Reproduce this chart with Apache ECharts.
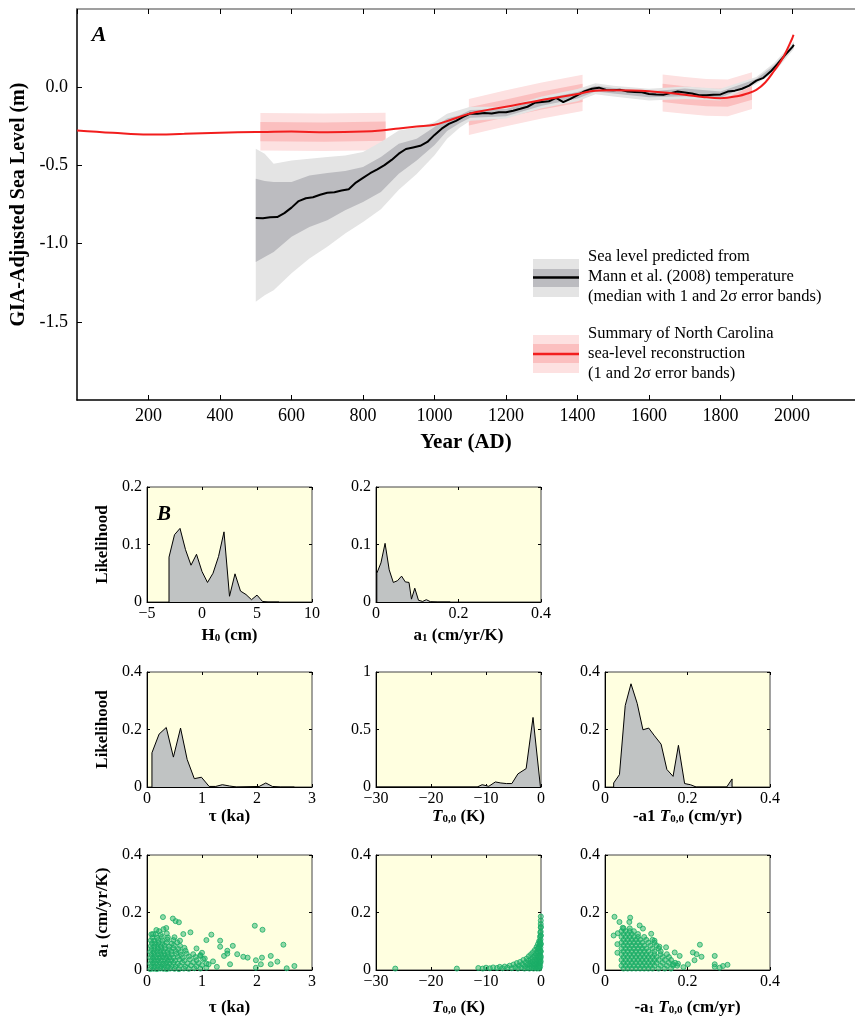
<!DOCTYPE html>
<html>
<head>
<meta charset="utf-8">
<script src="https://cdn.jsdelivr.net/npm/echarts@6/dist/echarts.min.js"></script>
<style>
  html, body { margin: 0; padding: 0; background: #fff; }
  #chart { width: 855px; height: 1020px; }
</style>
</head>
<body>
<div id="chart"></div>
<script>
const SERIF = '"Liberation Serif", "Times New Roman", serif';

// ---- Panel A: North Carolina reconstruction (red) ----
const ncYears = [0, 100, 200, 300, 400, 500, 600, 700, 800, 850, 900, 950, 1000, 1050, 1100, 1200, 1300, 1400, 1450, 1500,
  1600, 1700, 1750, 1800, 1850, 1875, 1900, 1925, 1950, 1975, 2000, 2004];
const ncLevel = [-0.277, -0.292, -0.303, -0.298, -0.291, -0.287, -0.284, -0.288, -0.284, -0.277, -0.264, -0.252, -0.24, -0.205, -0.168, -0.125, -0.082, -0.043, -0.022, -0.02,
  -0.026, -0.048, -0.062, -0.07, -0.056, -0.04, -0.017, 0.03, 0.105, 0.19, 0.31, 0.335];

// error boxes of the reconstruction (three segments)
const ncSeg1Years = [513, 690, 863];
const ncSeg1Lo2 = [-0.405, -0.408, -0.403];
const ncSeg1Lo1 = [-0.345, -0.348, -0.343];
const ncSeg1Hi1 = [-0.222, -0.225, -0.22];
const ncSeg1Hi2 = [-0.165, -0.168, -0.163];
const ncSeg2Years = [1096, 1200, 1300, 1414];
const ncSeg2Lo2 = [-0.305, -0.25, -0.2, -0.152];
const ncSeg2Lo1 = [-0.245, -0.192, -0.142, -0.095];
const ncSeg2Hi1 = [-0.128, -0.078, -0.028, 0.022];
const ncSeg2Hi2 = [-0.075, -0.02, 0.03, 0.08];
const ncSeg3Years = [1638, 1700, 1760, 1820, 1888];
const ncSeg3Lo2 = [-0.155, -0.17, -0.182, -0.185, -0.14];
const ncSeg3Lo1 = [-0.095, -0.11, -0.122, -0.125, -0.08];
const ncSeg3Hi1 = [0.022, 0.006, -0.008, -0.01, 0.035];
const ncSeg3Hi2 = [0.081, 0.065, 0.052, 0.05, 0.095];

// ---- Panel A: prediction from Mann et al. (2008) (black + grey) ----
const mannYears = [500, 520, 540, 560, 580, 600, 620, 640, 660, 680, 700, 720, 740, 760, 780, 800, 820, 840, 860, 880,
  900, 920, 940, 960, 980, 1000, 1020, 1040, 1060, 1080, 1100, 1120, 1140, 1160, 1180, 1200, 1220, 1240, 1260, 1280,
  1300, 1320, 1340, 1360, 1380, 1400, 1420, 1440, 1460, 1480, 1500, 1520, 1540, 1560, 1580, 1600, 1620, 1640, 1660, 1680,
  1700, 1720, 1740, 1760, 1780, 1800, 1820, 1840, 1860, 1880, 1900, 1920, 1940, 1960, 1980, 2000, 2005];
const mannMedian = [-0.836, -0.838, -0.832, -0.83, -0.805, -0.77, -0.728, -0.71, -0.704, -0.688, -0.675, -0.672, -0.66, -0.652, -0.61, -0.58, -0.55, -0.525, -0.498, -0.465,
  -0.425, -0.395, -0.385, -0.375, -0.35, -0.305, -0.265, -0.235, -0.215, -0.19, -0.168, -0.17, -0.165, -0.168, -0.16, -0.16, -0.15, -0.138, -0.125, -0.1,
  -0.095, -0.09, -0.068, -0.095, -0.075, -0.05, -0.025, -0.01, -0.003, -0.018, -0.02, -0.017, -0.028, -0.03, -0.032, -0.043, -0.047, -0.048, -0.038, -0.028,
  -0.034, -0.04, -0.052, -0.052, -0.048, -0.046, -0.028, -0.022, -0.01, 0.01, 0.042, 0.06, 0.1, 0.15, 0.205, 0.255, 0.27];

const bandYears = [500, 525, 550, 600, 650, 700, 750, 800, 850, 900, 950, 1000, 1035, 1070, 1100, 1200, 1300, 1400, 1450, 1500, 1600, 1700, 1800, 1900, 1950, 2005];
const mannLo2 = [-1.372, -1.33, -1.298, -1.19, -1.096, -1.02, -0.936, -0.862, -0.78, -0.655, -0.555, -0.435, -0.33, -0.26, -0.215, -0.2, -0.135, -0.09, -0.045, -0.06, -0.085, -0.075, -0.085, 0.02, 0.095, 0.245];
const mannLo1 = [-1.117, -1.085, -1.053, -0.957, -0.894, -0.851, -0.787, -0.734, -0.67, -0.553, -0.468, -0.37, -0.28, -0.23, -0.195, -0.185, -0.118, -0.072, -0.028, -0.04, -0.065, -0.058, -0.067, 0.03, 0.11, 0.258];
const mannHi1 = [-0.585, -0.6, -0.606, -0.606, -0.564, -0.549, -0.536, -0.511, -0.447, -0.362, -0.33, -0.255, -0.2, -0.18, -0.145, -0.14, -0.075, -0.03, 0.01, -0.005, -0.028, -0.008, -0.027, 0.052, 0.14, 0.28];
const mannHi2 = [-0.394, -0.426, -0.489, -0.468, -0.457, -0.447, -0.436, -0.415, -0.351, -0.277, -0.26, -0.223, -0.17, -0.145, -0.125, -0.125, -0.06, -0.012, 0.025, 0.01, -0.01, 0.005, -0.01, 0.065, 0.155, 0.292];

// ---- Panel B: likelihood curves ----
const h0X = [-3, -3, -2.5, -2, -1.5, -1, -0.5, 0, 0.5, 1, 1.5, 2, 2.5, 3, 3.5, 4, 4.5, 5, 5.5, 6, 7];
const h0Y = [0, 0.078, 0.117, 0.128, 0.091, 0.064, 0.083, 0.053, 0.034, 0.05, 0.079, 0.122, 0.01, 0.049, 0.019, 0.013, 0.004, 0.012, 0.001, 0, 0];
const a1X = [0.002, 0.002, 0.012, 0.022, 0.032, 0.042, 0.052, 0.062, 0.071, 0.08, 0.086, 0.094, 0.103, 0.113, 0.122, 0.132, 0.15, 0.18];
const a1Y = [0, 0.05, 0.068, 0.102, 0.056, 0.034, 0.037, 0.045, 0.035, 0.034, 0.005, 0.024, 0.003, 0.001, 0.004, 0.0005, 0, 0];
const tauX = [0.09, 0.09, 0.22, 0.35, 0.48, 0.61, 0.73, 0.86, 0.99, 1.13, 1.25, 1.37, 1.5, 1.63, 2.04, 2.16, 2.28, 2.43, 2.68];
const tauY = [0, 0.119, 0.184, 0.207, 0.104, 0.205, 0.096, 0.029, 0.034, 0.002, 0.002, 0.008, 0.0035, 0, 0.002, 0.014, 0.002, 0, 0];
const t00X = [-30, -26, -11.6, -10.7, -9.5, -8.3, -7.3, -6.3, -5.3, -4.2, -2.7, -1.45, -0.1];
const t00Y = [0, 0, 0, 0.02, 0.006, 0.044, 0.035, 0.03, 0.03, 0.114, 0.16, 0.605, 0];
const rateX = [0.021, 0.021, 0.035, 0.049, 0.063, 0.078, 0.092, 0.106, 0.12, 0.136, 0.15, 0.165, 0.178, 0.193, 0.207, 0.221, 0.295, 0.308, 0.308];
const rateY = [0, 0.014, 0.043, 0.283, 0.359, 0.291, 0.199, 0.205, 0.178, 0.149, 0.061, 0.037, 0.145, 0.012, 0.008, 0, 0, 0.028, 0];

// ---- Panel B: samples ----
const tauA1 = [
  [0.06,0.003],[0.12,0.004],[0.18,0.003],[0.24,0.005],[0.3,0.004],[0.36,0.003],[0.42,0.005],[0.5,0.004],[0.58,0.003],[0.67,0.005],[0.76,0.004],[0.86,0.006],[0.97,0.005],[1.08,0.008],
  [0.08,0.013],[0.14,0.012],[0.2,0.014],[0.26,0.013],[0.32,0.015],[0.38,0.012],[0.45,0.014],[0.52,0.013],[0.6,0.015],[0.7,0.012],[0.8,0.016],[0.9,0.013],[1.0,0.017],[1.12,0.02],
  [0.06,0.022],[0.11,0.024],[0.17,0.023],[0.23,0.025],[0.29,0.022],[0.35,0.024],[0.41,0.023],[0.48,0.025],[0.56,0.022],[0.64,0.026],[0.74,0.023],[0.84,0.027],[0.94,0.024],
  [0.08,0.033],[0.14,0.032],[0.2,0.034],[0.26,0.033],[0.32,0.035],[0.38,0.032],[0.44,0.034],[0.51,0.033],[0.59,0.036],[0.68,0.033],[0.78,0.037],[0.9,0.034],[1.02,0.038],
  [0.06,0.043],[0.11,0.042],[0.17,0.044],[0.23,0.043],[0.29,0.045],[0.35,0.042],[0.41,0.044],[0.48,0.043],[0.56,0.046],[0.65,0.043],[0.76,0.047],[0.88,0.045],
  [0.08,0.053],[0.14,0.052],[0.2,0.054],[0.26,0.053],[0.32,0.055],[0.38,0.052],[0.45,0.054],[0.53,0.056],[0.62,0.053],[0.72,0.057],[0.84,0.055],[0.97,0.052],
  [0.06,0.063],[0.12,0.062],[0.18,0.064],[0.24,0.063],[0.3,0.065],[0.37,0.062],[0.44,0.064],[0.52,0.066],[0.61,0.063],[0.7,0.067],
  [0.08,0.073],[0.14,0.072],[0.2,0.074],[0.26,0.073],[0.33,0.075],[0.4,0.072],[0.48,0.076],[0.57,0.073],[0.68,0.077],
  [0.07,0.083],[0.13,0.082],[0.19,0.084],[0.25,0.083],[0.32,0.085],[0.4,0.082],[0.49,0.086],[0.6,0.084],
  [0.09,0.093],[0.15,0.092],[0.21,0.094],[0.28,0.093],[0.36,0.095],[0.45,0.092],[0.55,0.096],
  [0.07,0.103],[0.13,0.102],[0.2,0.104],[0.28,0.103],[0.37,0.106],[0.48,0.104],[0.6,0.102],
  [0.1,0.113],[0.18,0.112],[0.27,0.115],[0.38,0.113],[0.5,0.114],
  [0.08,0.124],[0.16,0.125],[0.25,0.123],[0.36,0.127],[0.22,0.135],[0.3,0.142],
  [0.29,0.184],[0.47,0.179],[0.52,0.17],[0.58,0.166],[0.35,0.146],[0.11,0.125],[0.17,0.139],[0.79,0.131],[0.66,0.125],
  [1.08,0.104],[1.17,0.123],[1.33,0.102],[1.33,0.081],[1.56,0.084],[1.46,0.057],[1.64,0.055],[1.75,0.046],[1.83,0.043],
  [1.96,0.154],[2.1,0.14],[1.98,0.034],[2.09,0.043],[1.98,0.008],[2.07,0.02],[2.25,0.049],[2.25,0.02],[2.37,0.029],
  [2.48,0.088],[2.54,0.006],[2.68,0.014],[1.27,0.011],[1.51,0.02],[1.08,0.022],[0.97,0.049],[1.4,0.049],[1.46,0.067],
  [1.2,0.03],[1.0,0.06],[0.9,0.075],[1.05,0.04]
];
const t00A1 = [
  [-26.5,0.005],[-15.3,0.005],[-11.4,0.007],[-10.6,0.005],[-10.0,0.008],[-9.3,0.006],[-8.7,0.009],[-8.0,0.007],[-7.5,0.011],[-7.0,0.006],
  [-6.6,0.012],[-6.1,0.008],[-5.7,0.015],[-5.3,0.006],[-5.0,0.019],[-4.7,0.01],[-4.4,0.024],[-4.2,0.005],[-4.0,0.015],[-3.8,0.028],
  [-3.6,0.008],[-3.4,0.02],[-3.2,0.035],[-3.0,0.005],[-2.9,0.014],[-2.8,0.026],[-2.6,0.04],[-2.5,0.008],[-2.4,0.02],[-2.3,0.032],
  [-2.2,0.048],[-2.1,0.005],[-2.0,0.014],[-1.9,0.025],[-1.85,0.037],[-1.8,0.055],[-1.7,0.008],[-1.6,0.018],[-1.55,0.03],[-1.5,0.044],
  [-1.45,0.062],[-1.35,0.005],[-1.3,0.013],[-1.25,0.023],[-1.2,0.035],[-1.15,0.05],[-1.1,0.07],[-1.0,0.008],[-0.95,0.018],[-0.9,0.03],
  [-0.9,0.043],[-0.85,0.058],[-0.8,0.08],[-0.75,0.005],[-0.7,0.013],[-0.7,0.024],[-0.65,0.036],[-0.6,0.05],[-0.6,0.065],[-0.55,0.09],
  [-0.5,0.009],[-0.45,0.019],[-0.45,0.032],[-0.4,0.046],[-0.4,0.06],[-0.35,0.075],[-0.35,0.1],[-0.3,0.005],[-0.3,0.015],[-0.25,0.027],
  [-0.25,0.04],[-0.22,0.054],[-0.2,0.068],[-0.2,0.085],[-0.18,0.115],[-0.15,0.012],[-0.12,0.024],[-0.12,0.038],[-0.1,0.05],[-0.1,0.064],
  [-0.1,0.078],[-0.08,0.092],[-0.08,0.106],[-0.07,0.12],[-0.06,0.134],[-0.05,0.148],[-0.05,0.16],[-0.04,0.172],[-0.03,0.186],[-0.05,0.03],
  [-0.03,0.045],[-0.03,0.065],[-0.02,0.09],[-0.02,0.12],[-0.02,0.15],[-0.15,0.1],[-0.25,0.095],[-0.12,0.13],[-0.4,0.08],[-0.6,0.075]
];
const rateA1 = [
  [0.045,0.005],[0.055,0.005],[0.065,0.005],[0.075,0.005],[0.085,0.005],[0.095,0.005],[0.105,0.005],[0.115,0.005],[0.13,0.005],[0.145,0.005],[0.16,0.005],
  [0.04,0.015],[0.05,0.015],[0.06,0.015],[0.07,0.015],[0.08,0.015],[0.09,0.015],[0.1,0.015],[0.11,0.015],[0.12,0.015],[0.135,0.015],[0.15,0.015],[0.165,0.015],[0.175,0.015],
  [0.045,0.025],[0.055,0.025],[0.065,0.025],[0.075,0.025],[0.085,0.025],[0.095,0.025],[0.105,0.025],[0.115,0.025],[0.125,0.025],[0.14,0.025],[0.155,0.025],[0.17,0.025],
  [0.04,0.035],[0.05,0.035],[0.06,0.035],[0.07,0.035],[0.08,0.035],[0.09,0.035],[0.1,0.035],[0.11,0.035],[0.12,0.035],[0.13,0.035],[0.145,0.035],[0.16,0.035],
  [0.045,0.045],[0.055,0.045],[0.065,0.045],[0.075,0.045],[0.085,0.045],[0.095,0.045],[0.105,0.045],[0.115,0.045],[0.125,0.045],[0.14,0.045],[0.155,0.045],
  [0.04,0.055],[0.05,0.055],[0.06,0.055],[0.07,0.055],[0.08,0.055],[0.09,0.055],[0.1,0.055],[0.11,0.055],[0.12,0.055],[0.135,0.055],[0.15,0.055],
  [0.045,0.065],[0.055,0.065],[0.065,0.065],[0.075,0.065],[0.085,0.065],[0.095,0.065],[0.105,0.065],[0.12,0.065],[0.135,0.065],
  [0.04,0.075],[0.05,0.075],[0.06,0.075],[0.07,0.075],[0.08,0.075],[0.09,0.075],[0.1,0.075],[0.115,0.075],[0.13,0.075],
  [0.045,0.085],[0.055,0.085],[0.065,0.085],[0.075,0.085],[0.085,0.085],[0.095,0.085],[0.11,0.085],[0.125,0.085],
  [0.04,0.095],[0.05,0.095],[0.06,0.095],[0.07,0.095],[0.08,0.095],[0.09,0.095],[0.105,0.095],[0.12,0.095],
  [0.045,0.105],[0.055,0.105],[0.065,0.105],[0.075,0.105],[0.085,0.105],[0.1,0.105],[0.115,0.105],
  [0.04,0.115],[0.05,0.115],[0.06,0.115],[0.07,0.115],[0.08,0.115],[0.095,0.115],
  [0.045,0.125],[0.055,0.125],[0.065,0.125],[0.08,0.125],[0.04,0.135],[0.05,0.135],[0.06,0.135],[0.07,0.135],[0.045,0.145],[0.06,0.145],
  [0.023,0.185],[0.035,0.167],[0.061,0.182],[0.059,0.167],[0.084,0.155],[0.092,0.144],[0.021,0.12],[0.031,0.128],[0.043,0.147],
  [0.112,0.126],[0.12,0.102],[0.132,0.081],[0.148,0.079],[0.169,0.061],[0.181,0.049],[0.201,0.02],[0.213,0.061],[0.222,0.055],
  [0.23,0.088],[0.234,0.046],[0.217,0.034],[0.266,0.049],[0.266,0.02],[0.266,0.011],[0.278,0.008],[0.286,0.014],[0.297,0.018],
  [0.165,0.02],[0.177,0.022],[0.19,0.01],[0.03,0.06],[0.03,0.09]
];

const grids = [];
const xAxes = [];
const yAxes = [];
const series = [];

// Panel A grid
grids.push({ left: 77, top: 9, right: 0, height: 391 });
xAxes.push({
  gridIndex: 0, type: 'value', min: 0, max: 2176, interval: 200, position: 'bottom',
  axisLine: { show: true, onZero: false, lineStyle: { color: '#000', width: 1.5 } },
  axisTick: { inside: true, length: 5, lineStyle: { color: '#000' } },
  axisLabel: { showMinLabel: false, showMaxLabel: false, fontFamily: SERIF, fontSize: 18, color: '#000', margin: 7,
    formatter: v => String(v) },
  splitLine: { show: false },
  name: 'Year (AD)', nameLocation: 'middle', nameGap: 32,
  nameTextStyle: { fontFamily: SERIF, fontSize: 21, fontWeight: 'bold', color: '#000' }
});
xAxes.push({
  gridIndex: 0, type: 'value', min: 0, max: 2176, interval: 200, position: 'top',
  axisLine: { show: true, onZero: false, lineStyle: { color: '#808080', width: 1.5 } },
  axisTick: { inside: true, length: 5, lineStyle: { color: '#000' } },
  axisLabel: { show: false }, splitLine: { show: false }
});
yAxes.push({
  gridIndex: 0, type: 'value', min: -2, max: 0.5, interval: 0.5, position: 'left',
  axisLine: { show: true, onZero: false, lineStyle: { color: '#000', width: 1.5 } },
  axisTick: { inside: true, length: 5, lineStyle: { color: '#000' } },
  axisLabel: { showMinLabel: false, showMaxLabel: false, fontFamily: SERIF, fontSize: 18, color: '#000', margin: 9,
    formatter: v => v.toFixed(1) },
  splitLine: { show: false },
  name: 'GIA-Adjusted Sea Level (m)', nameLocation: 'middle', nameGap: 46,
  nameTextStyle: { fontFamily: SERIF, fontSize: 20, fontWeight: 'bold', color: '#000' }
});

function band(xIdx, yIdx, xs, lo, hi, color, z) {
  return {
    type: 'custom', xAxisIndex: xIdx, yAxisIndex: yIdx, z: z, silent: true,
    data: xs.map((x, i) => [x, lo[i], hi[i]]),
    encode: { x: 0, y: [1, 2] },
    renderItem: (params, api) => {
      if (params.dataIndex !== 0) return null;
      const pts = [];
      for (let i = 0; i < xs.length; i++) pts.push(api.coord([xs[i], hi[i]]));
      for (let i = xs.length - 1; i >= 0; i--) pts.push(api.coord([xs[i], lo[i]]));
      return { type: 'polygon', shape: { points: pts }, style: { fill: color } };
    }
  };
}

const RED2 = '#fde1e1', RED1 = '#fbbfbf', GREY2 = '#e4e4e4', GREY1 = '#bcbcc0';
series.push(band(0, 0, ncSeg1Years, ncSeg1Lo2, ncSeg1Hi2, RED2, 1));
series.push(band(0, 0, ncSeg1Years, ncSeg1Lo1, ncSeg1Hi1, RED1, 1));
series.push(band(0, 0, ncSeg2Years, ncSeg2Lo2, ncSeg2Hi2, RED2, 1));
series.push(band(0, 0, ncSeg2Years, ncSeg2Lo1, ncSeg2Hi1, RED1, 1));
series.push(band(0, 0, ncSeg3Years, ncSeg3Lo2, ncSeg3Hi2, RED2, 1));
series.push(band(0, 0, ncSeg3Years, ncSeg3Lo1, ncSeg3Hi1, RED1, 1));
series.push(band(0, 0, bandYears, mannLo2, mannHi2, GREY2, 2));
series.push(band(0, 0, bandYears, mannLo1, mannHi1, GREY1, 2));
series.push({
  type: 'line', xAxisIndex: 0, yAxisIndex: 0, z: 3, symbol: 'none',
  data: mannYears.map((x, i) => [x, mannMedian[i]]),
  lineStyle: { color: '#000', width: 2 }
});
series.push({
  type: 'line', xAxisIndex: 0, yAxisIndex: 0, z: 4, symbol: 'none', smooth: 0.4,
  data: ncYears.map((x, i) => [x, ncLevel[i]]),
  lineStyle: { color: '#f21d1d', width: 2 }
});

// Panel B grids
const TXT = { fontFamily: SERIF, fontWeight: 'bold', color: '#000' };
const rich = {
  b: Object.assign({ fontSize: 17, lineHeight: 20, verticalAlign: 'bottom' }, TXT),
  i: Object.assign({ fontSize: 17, lineHeight: 20, fontStyle: 'italic', verticalAlign: 'bottom' }, TXT),
  s: Object.assign({ fontSize: 11, lineHeight: 6, verticalAlign: 'bottom' }, TXT)
};
const minusFmt = v => (v < 0 ? '\u2212' + (-v) : String(v));

function panel(left, top, xr, yr, xName, xGap, yName) {
  const gi = grids.length;
  grids.push({ left: left, top: top, width: 165, height: 115, show: true, backgroundColor: '#ffffe0', borderColor: '#444', borderWidth: 1 });
  const common = { gridIndex: gi, type: 'value', splitLine: { show: false } };
  const tick = { inside: true, length: 3, lineStyle: { color: '#000' } };
  const lab = { fontFamily: SERIF, fontSize: 16, color: '#000' };
  const xi = xAxes.length;
  xAxes.push(Object.assign({}, common, {
    min: xr[0], max: xr[1], interval: xr[2], position: 'bottom',
    axisLine: { show: true, onZero: false, lineStyle: { color: '#000' } },
    axisTick: tick, axisLabel: Object.assign({ margin: 4, formatter: minusFmt }, lab),
    name: xName, nameLocation: 'middle', nameGap: xGap,
    nameTextStyle: Object.assign({ fontSize: 17, rich: rich }, TXT)
  }));
  xAxes.push(Object.assign({}, common, {
    min: xr[0], max: xr[1], interval: xr[2], position: 'top',
    axisLine: { show: false, onZero: false }, axisTick: tick, axisLabel: { show: false }
  }));
  const yi = yAxes.length;
  yAxes.push(Object.assign({}, common, {
    min: yr[0], max: yr[1], interval: yr[2], position: 'left',
    axisLine: { show: true, onZero: false, lineStyle: { color: '#000' } },
    axisTick: tick, axisLabel: Object.assign({ margin: 5 }, lab),
    name: yName || '', nameLocation: 'middle', nameGap: 36,
    nameTextStyle: Object.assign({ fontSize: 17, rich: rich }, TXT)
  }));
  yAxes.push(Object.assign({}, common, {
    min: yr[0], max: yr[1], interval: yr[2], position: 'right',
    axisLine: { show: false, onZero: false }, axisTick: tick, axisLabel: { show: false }
  }));
  return { x: xi, y: yi };
}

function hist(ax, xs, ys) {
  series.push({
    type: 'line', xAxisIndex: ax.x, yAxisIndex: ax.y, symbol: 'none', z: 3,
    data: xs.map((x, i) => [x, ys[i]]),
    lineStyle: { color: '#000', width: 1 },
    areaStyle: { color: '#c0c3c3', opacity: 1 }
  });
}
function dots(ax, pts) {
  series.push({
    type: 'scatter', xAxisIndex: ax.x, yAxisIndex: ax.y, symbol: 'circle', symbolSize: 5, z: 3,
    data: pts,
    itemStyle: { color: 'rgba(30,176,105,0.6)', borderColor: '#1aad66', borderWidth: 1 }
  });
}

const NAME_H0 = '{b|H}{s|0}{b| (cm)}';
const NAME_A1 = '{b|a}{s|1}{b| (cm/yr/K)}';
const NAME_TAU = '{b|\u03c4 (ka)}';
const NAME_T00 = '{i|T}{s|0,0}{b| (K)}';
const NAME_RATE = '{b|-a1 }{i|T}{s|0,0}{b| (cm/yr)}';
const NAME_RATE2 = '{b|-a}{s|1}{b| }{i|T}{s|0,0}{b| (cm/yr)}';
const NAME_LIK = '{b|Likelihood}';

const pH0 = panel(147, 487, [-5, 10, 5], [0, 0.2, 0.1], NAME_H0, 22, NAME_LIK);
const pA1 = panel(376, 487, [0, 0.4, 0.2], [0, 0.2, 0.1], NAME_A1, 22);
const pTau = panel(147, 672, [0, 3, 1], [0, 0.4, 0.2], NAME_TAU, 17, NAME_LIK);
const pT00 = panel(376, 672, [-30, 0, 10], [0, 1, 0.5], NAME_T00, 17);
const pRate = panel(605, 672, [0, 0.4, 0.2], [0, 0.4, 0.2], NAME_RATE, 17);
const sTau = panel(147, 855, [0, 3, 1], [0, 0.4, 0.2], NAME_TAU, 26, NAME_A1);
const sT00 = panel(376, 855, [-30, 0, 10], [0, 0.4, 0.2], NAME_T00, 26);
const sRate = panel(605, 855, [0, 0.4, 0.2], [0, 0.4, 0.2], NAME_RATE2, 26);

hist(pH0, h0X, h0Y);
hist(pA1, a1X, a1Y);
hist(pTau, tauX, tauY);
hist(pT00, t00X, t00Y);
hist(pRate, rateX, rateY);
dots(sTau, tauA1);
dots(sT00, t00A1);
dots(sRate, rateA1);

const legendFont = '16.5px ' + SERIF;
const graphic = [
  { type: 'text', x: 99, y: 35, style: { text: 'A', font: 'italic bold 22px ' + SERIF, fill: '#000', align: 'center', verticalAlign: 'middle' } },
  { type: 'text', x: 164, y: 515, style: { text: 'B', font: 'italic bold 21px ' + SERIF, fill: '#000', align: 'center', verticalAlign: 'middle' }, z: 10 },
  // legend swatches
  { type: 'rect', shape: { x: 533, y: 259, width: 46, height: 38 }, style: { fill: GREY2 } },
  { type: 'rect', shape: { x: 533, y: 269, width: 46, height: 18 }, style: { fill: GREY1 } },
  { type: 'line', shape: { x1: 533, y1: 277.5, x2: 579, y2: 277.5 }, style: { stroke: '#000', lineWidth: 2.5 } },
  { type: 'rect', shape: { x: 533, y: 335, width: 46, height: 38 }, style: { fill: RED2 } },
  { type: 'rect', shape: { x: 533, y: 344, width: 46, height: 19 }, style: { fill: RED1 } },
  { type: 'line', shape: { x1: 533, y1: 354, x2: 579, y2: 354 }, style: { stroke: '#f21d1d', lineWidth: 2.5 } }
];
[['Sea level predicted from', 257], ['Mann et al. (2008) temperature', 277], ['(median with 1 and 2\u03c3 error bands)', 297],
 ['Summary of North Carolina', 334], ['sea-level reconstruction', 354], ['(1 and 2\u03c3 error bands)', 374]].forEach(([t, y]) => {
  graphic.push({ type: 'text', x: 588, y: y, style: { text: t, font: legendFont, fill: '#000', align: 'left', verticalAlign: 'middle' } });
});

const chart = echarts.init(document.getElementById('chart'));
chart.setOption({
  backgroundColor: '#fff',
  animation: false,
  grid: grids,
  xAxis: xAxes,
  yAxis: yAxes,
  series: series,
  graphic: graphic
});
</script>
</body>
</html>
